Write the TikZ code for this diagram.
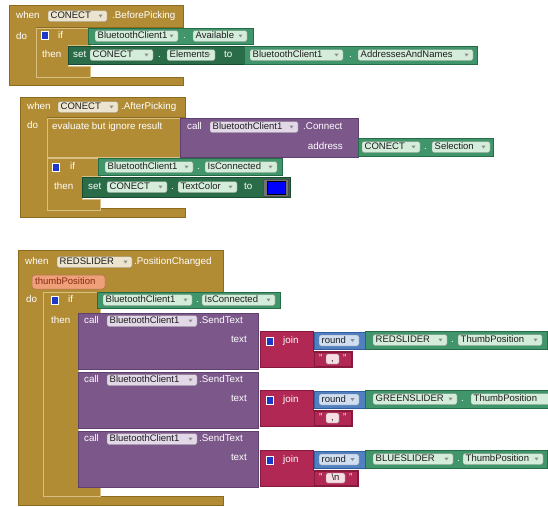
\documentclass[tikz,border=0pt]{standalone}
\usepackage{fontspec}
\setmainfont{Liberation Sans}
\definecolor{gold}{RGB}{178,140,52}
\definecolor{goldd}{RGB}{140,106,30}
\definecolor{goldl}{RGB}{215,192,130}
\definecolor{greenl}{RGB}{64,150,106}
\definecolor{greenld}{RGB}{38,108,70}
\definecolor{greend}{RGB}{42,108,72}
\definecolor{greendd}{RGB}{24,76,48}
\definecolor{purp}{RGB}{124,88,138}
\definecolor{purpd}{RGB}{95,64,110}
\definecolor{redj}{RGB}{178,40,84}
\definecolor{redjd}{RGB}{135,25,60}
\definecolor{bluer}{RGB}{80,128,192}
\definecolor{bluerd}{RGB}{50,95,160}
\definecolor{orng}{RGB}{240,160,120}
\definecolor{orngt}{RGB}{130,40,20}
\definecolor{fldg}{RGB}{212,236,218}
\definecolor{fldp}{RGB}{226,216,232}
\definecolor{fldh}{RGB}{236,228,206}
\definecolor{fldb}{RGB}{208,222,242}
\definecolor{fldr}{RGB}{246,222,228}
\definecolor{ftext}{RGB}{30,30,30}
\definecolor{gearc}{RGB}{28,56,200}
\newcommand\fld[6][fldg]{%
  \filldraw[fill=#1, draw=#1!60!black, rounded corners=2pt, line width=0.4pt] (#3,#5-5.5) rectangle (#4,#5+5.5);
  \node[ftxt] (#2) at (#3+2.5,#5) {#6};
  \fill[black!45] (#4-8.5,#5-1.3) -- (#4-4.5,#5-1.3) -- (#4-6.5,#5+1.4) -- cycle;}
\newcommand\gearbox[2]{\filldraw[fill=gearc, draw=white, line width=0.8pt] (#1,#2) rectangle ++(7,8);}
\newcommand\joinrow[9]{% id, top, slider, sx2, tpx1, tpx2, gx2, txt, tbx2
  \filldraw[joinblk] (260,#2) -- (313,#2) -- (313,#2+20) -- (#9,#2+20) -- (#9,#2+36) -- (260,#2+36) -- cycle;
  \gearbox{266}{#2+6}
  \node[lbl] (join#1) at (283,#2+10) {join};
  \filldraw[mathblk] (314,#2+1) rectangle (366,#2+18);
  \fld[fldb]{round#1}{319}{359}{#2+9.5}{round}
  \filldraw[getter] (365,#2) rectangle (#7,#2+18);
  \fld{sl#1}{373}{#4}{#2+9}{#3}
  \node[lbl] (dot#1) at (#4+4,#2+9) {.};
  \fld{tp#1}{#5}{#6}{#2+9}{ThumbPosition}
  \filldraw[joinblk] (314,#2+21) rectangle (#9-1,#2+35);
  \node[lbl] (qa#1) at (319,#2+28) {"};
  \filldraw[fill=fldr, draw=fldr!60!black, rounded corners=1.5pt, line width=0.4pt] (326,#2+23) rectangle (#9-13,#2+33);
  \node[ftxt, anchor=center] (str#1) at ({(326+#9-13)/2},#2+28) {#8};
  \node[lbl] (qb#1) at (#9-9,#2+28) {"};}
\begin{document}
\begin{tikzpicture}[x=1pt,y=-1pt,
  lbl/.style={text=white, font=\fontsize{9.8}{11}\selectfont, inner sep=0pt, anchor=west, text height=7pt, text depth=2pt},
  ftxt/.style={text=ftext, font=\fontsize{9.5}{11}\selectfont, inner sep=0pt, anchor=west, text height=7pt, text depth=2pt},
  ctrl/.style={fill=gold, draw=goldd, line width=0.6pt},
  innerc/.style={fill=gold, draw=goldl, line width=0.7pt},
  getter/.style={fill=greenl, draw=greenld, line width=0.8pt},
  setter/.style={fill=greend, draw=greendd, line width=0.8pt},
  purpblk/.style={fill=purp, draw=purpd, line width=0.6pt},
  joinblk/.style={fill=redj, draw=redjd, line width=0.6pt},
  mathblk/.style={fill=bluer, draw=bluerd, line width=0.6pt}]
\useasboundingbox (0,0) rectangle (548,506);
\clip (0,0) rectangle (548,506);
\fill[white] (0,0) rectangle (548,506);

% ---------- Block 1 ----------
\filldraw[ctrl] (9,5) -- (183,5) -- (183,27) -- (36,27) -- (36,77) -- (183,77) -- (183,85) -- (9,85) -- cycle;
\node[lbl] (w1) at (16,16) {when};
\fld[fldh]{c1}{48}{107}{16}{CONECT}
\node[lbl] (e1) at (112,16) {.BeforePicking};
\node[lbl] (do1) at (16,37) {do};
\filldraw[innerc] (36,28) -- (90,28) -- (90,45) -- (68,45) -- (68,66) -- (90,66) -- (90,77) -- (36,77) -- cycle;
\gearbox{41}{31}
\node[lbl] (if1) at (58,36) {if};
\node[lbl] (th1) at (42,55) {then};
\filldraw[getter] (88,28) rectangle (253,44);
\fld{bt1}{95}{178}{36}{BluetoothClient1}
\node[lbl] (d1) at (183,36) {.};
\fld{av1}{193}{247}{36}{Available}
\filldraw[setter] (68,46) rectangle (245,64);
\node[lbl] (set1) at (73,55) {set};
\fld{c1b}{90}{153}{55}{CONECT}
\node[lbl] (d1b) at (158,55) {.};
\fld{el1}{167}{215}{55}{Elements}
\node[lbl] (to1) at (224,55) {to};
\filldraw[getter] (244,46.5) rectangle (477,64);
\fld{bt1b}{250}{343}{55}{BluetoothClient1}
\node[lbl] (d1c) at (349,55) {.};
\fld{an1}{358}{473}{55}{AddressesAndNames}

% ---------- Block 2 ----------
\filldraw[ctrl] (20,97) -- (185,97) -- (185,117) -- (47,117) -- (47,208) -- (185,208) -- (185,217) -- (20,217) -- cycle;
\node[lbl] (w2) at (27,107) {when};
\fld[fldh]{c2}{58}{118}{107}{CONECT}
\node[lbl] (e2) at (121,107) {.AfterPicking};
\node[lbl] (do2) at (27,126) {do};
\filldraw[innerc] (47,118) rectangle (183,157);
\node[lbl] (ev2) at (52,127) {evaluate but ignore result};
\filldraw[purpblk] (180,118) rectangle (358,157);
\node[lbl] (call2) at (187,127) {call};
\fld[fldp]{bt2}{210}{298}{127}{BluetoothClient1}
\node[lbl] (cn2) at (303,127) {.Connect};
\node[lbl, anchor=east] (ad2) at (343,147) {address};
\filldraw[getter] (358,138) rectangle (493,156);
\fld{c2b}{362}{420}{147}{CONECT}
\node[lbl] (d2) at (424,147) {.};
\fld{sel2}{432}{490}{147}{Selection}
\filldraw[innerc] (47,158) -- (100,158) -- (100,176) -- (82,176) -- (82,199) -- (100,199) -- (100,210) -- (47,210) -- cycle;
\gearbox{52}{163}
\node[lbl] (if2) at (70,167) {if};
\node[lbl] (th2) at (54,187) {then};
\filldraw[getter] (98,158) rectangle (282,175);
\fld{bt2b}{105}{193}{167}{BluetoothClient1}
\node[lbl] (d2b) at (197,167) {.};
\fld{ic2}{205}{277}{167}{IsConnected}
\filldraw[setter] (82,177) rectangle (290,197);
\node[lbl] (set2) at (88,187) {set};
\fld{c2c}{107}{167}{187}{CONECT}
\node[lbl] (d2c) at (171,187) {.};
\fld{tc2}{178}{237}{187}{TextColor}
\node[lbl] (to2) at (244,187) {to};
\filldraw[fill=black!55, draw=black!70, line width=0.5pt] (263,179) rectangle (288,196);
\filldraw[fill=blue, draw=black, line width=0.6pt] (267,181) rectangle (285,194);

% ---------- Block 3 ----------
\filldraw[ctrl] (18,250) -- (223,250) -- (223,292) -- (43,292) -- (43,496) -- (223,496) -- (223,505) -- (18,505) -- cycle;
\node[lbl] (w3) at (25,262) {when};
\fld[fldh]{rs3}{57}{132}{262}{REDSLIDER}
\node[lbl] (e3) at (134,262) {.PositionChanged};
\filldraw[fill=orng, draw=orng!70!black, rounded corners=3pt, line width=0.5pt] (32,275) rectangle (105,289);
\node[ftxt, text=orngt] (tp3) at (35,282) {thumbPosition};
\node[lbl] (do3) at (26,300) {do};
\filldraw[innerc] (43,292) -- (100,292) -- (100,313) -- (78,313) -- (78,486) -- (100,486) -- (100,496) -- (43,496) -- cycle;
\gearbox{51}{296}
\node[lbl] (if3) at (68,300) {if};
\node[lbl] (th3) at (51,321) {then};
\filldraw[getter] (97,292) rectangle (280,308);
\fld{bt3}{103}{192}{300}{BluetoothClient1}
\node[lbl] (d3) at (196,300) {.};
\fld{ic3}{202}{275}{300}{IsConnected}
\foreach \t/\i in {313/1,372/2,431/3}{
  \filldraw[purpblk] (78,\t) rectangle (258,\t+56);
  \node[lbl] (callst\i) at (84,\t+8) {call};
  \fld[fldp]{btc\i}{107}{197}{\t+8}{BluetoothClient1}
  \node[lbl] (st\i) at (199,\t+8) {.SendText};
  \node[lbl, anchor=east] (tx\i) at (247,\t+27) {text};
}
\joinrow{1}{331}{REDSLIDER}{447}{458}{542}{547}{,}{352}
\joinrow{2}{390}{GREENSLIDER}{457}{471}{565}{565}{,}{352}
\joinrow{3}{450}{BLUESLIDER}{453}{463}{543}{547}{\textbackslash n}{358}
\end{tikzpicture}
\end{document}
